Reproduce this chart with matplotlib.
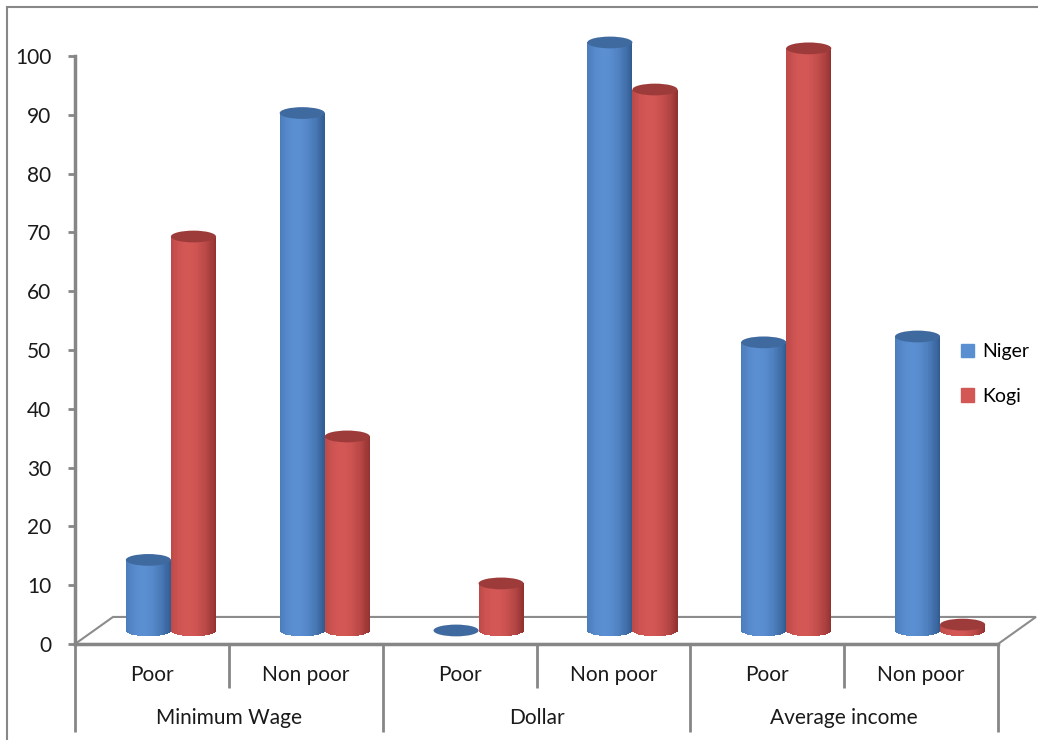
import numpy as np
import matplotlib.pyplot as plt
from matplotlib.patches import Ellipse, Polygon, Rectangle, Patch
from matplotlib.colors import to_rgb

plt.rcParams['font.family'] = ['Lato', 'DejaVu Sans']

#%%
# poverty measures, share of households (%)
groups = ['Minimum Wage', 'Dollar', 'Average income']
categories = ['Poor', 'Non poor', 'Poor', 'Non poor', 'Poor', 'Non poor']
niger = [12, 88, 0, 100, 49, 50]
kogi = [67, 33, 8, 92, 99, 1]

# cylinder colours: dark edge, light face, top cap
blue = ('#2f578c', '#5a8fd2', '#3f6a9f')
red = ('#8e302f', '#d35755', '#9c3b39')

#%%
fig = plt.figure(figsize=(10.38, 7.40), dpi=100)
ax = fig.add_axes([75 / 1038, (740 - 644) / 740, 923 / 1038, 588 / 740])
ax.set_xlim(0, 6)
ax.set_ylim(0, 100)

# fake 3d: depth shift of the floor and of the bars (data units)
floor_dx, floor_dy = 0.247, 4.6
bar_dx, bar_dy = floor_dx / 2, floor_dy / 2
bar_w = 0.293
cap_h = 2.0
n_strips = 40


def cylinder(xc, value, cols):
    dark, light, top = np.array(to_rgb(cols[0])), np.array(to_rgb(cols[1])), cols[2]
    u = np.linspace(-1, 1, n_strips + 1)
    u = (u[:-1] + u[1:]) / 2
    shade = np.clip(np.cos(np.pi / 2 * (u + 0.25) / 1.25), 0, 1) ** 0.8
    colors = [dark + (light - dark) * s for s in shade]
    bottoms = bar_dy - cap_h / 2 * np.sqrt(1 - u ** 2)
    heights = bar_dy + value - bottoms
    if value > 0:
        ax.bar(xc + u * bar_w / 2, heights, width=bar_w / n_strips * 1.05, bottom=bottoms,
               color=colors, linewidth=0, clip_on=False, zorder=3)
    ax.add_patch(Ellipse((xc, bar_dy + value), bar_w, cap_h, facecolor=top,
                         edgecolor='none', clip_on=False, zorder=4))


# floor
ax.add_patch(Polygon([(0, 0), (6, 0), (6 + floor_dx, floor_dy), (floor_dx, floor_dy)],
                     closed=True, facecolor='white', edgecolor='#8c8c8c', linewidth=1.5,
                     clip_on=False, zorder=1))

for i in range(len(categories)):
    xc = i + 0.5 + bar_dx
    cylinder(xc - bar_w / 2, niger[i], blue)
    cylinder(xc + bar_w / 2, kogi[i], red)

# axes lines
for s in ax.spines.values():
    s.set_visible(False)
ax.plot([0, 0], [0, 100], color='#868686', linewidth=2.5, clip_on=False, zorder=2)
ax.plot([0, 6], [0, 0], color='#868686', linewidth=2.5, clip_on=False, zorder=2)
ax.set_yticks(np.arange(0, 101, 10))
ax.tick_params(axis='y', length=5, width=2, color='#868686', labelsize=15, pad=12,
               labelcolor='#1a1a1a')
ax.set_xticks([])

# two-level category axis
ax.vlines([1, 3, 5], -7.5, 0, color='#868686', linewidth=2, clip_on=False)
ax.vlines([0, 2, 4, 6], -15, 0, color='#868686', linewidth=2, clip_on=False)
for i, c in enumerate(categories):
    ax.text(i + 0.5, -5.3, c, ha='center', va='center', fontsize=15, color='#1a1a1a')
for j, g in enumerate(groups):
    ax.text(2 * j + 1, -12.6, g, ha='center', va='center', fontsize=15, color='#1a1a1a')

# legend
handles = [Patch(color=blue[1], label='Niger'), Patch(color=red[1], label='Kogi')]
fig.legend(handles=handles, loc='center left', bbox_to_anchor=(943 / 1038, 1 - 374 / 740),
           frameon=False, fontsize=14, handlelength=0.7, handleheight=0.7,
           handletextpad=0.4, labelspacing=1.4)

# chart border
fig.add_artist(Rectangle((7 / 1038, -0.05), 1.1, 1 - 7 / 740 + 0.05, transform=fig.transFigure,
                         fill=False, edgecolor='#878787', linewidth=1.5))

fig.savefig('out.png', dpi=100)
